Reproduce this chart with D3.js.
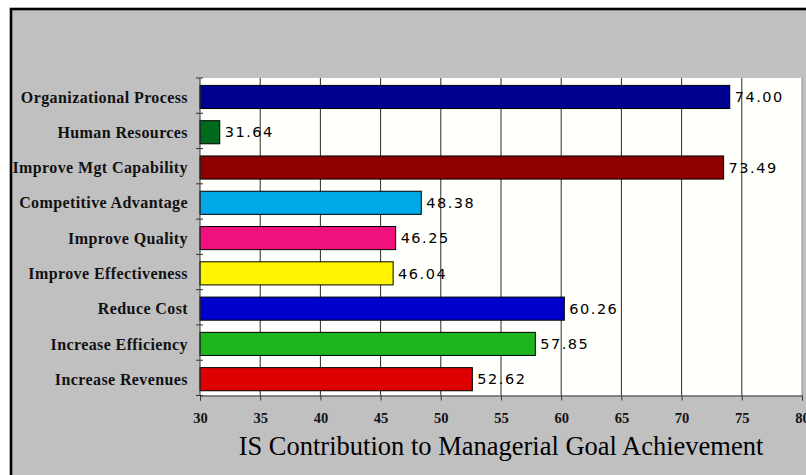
<!DOCTYPE html>
<html>
<head>
<meta charset="utf-8">
<script src="https://cdn.jsdelivr.net/npm/d3@7"></script>
<style>
  html, body { margin: 0; padding: 0; background: #ffffff; }
  svg { display: block; }
</style>
</head>
<body>
<svg id="chart" width="806" height="475"></svg>
<script>
// Goal categories, top to bottom
const categories = [
  "Organizational Process",
  "Human Resources",
  "Improve Mgt Capability",
  "Competitive Advantage",
  "Improve Quality",
  "Improve Effectiveness",
  "Reduce Cost",
  "Increase Efficiency",
  "Increase Revenues"
];
// Score for each category
const values = [74.00, 31.64, 73.49, 48.38, 46.25, 46.04, 60.26, 57.85, 52.62];
// Bar fill per category
const colors = ["#000090", "#006b1c", "#8e0000", "#00aae8", "#f0117f", "#fff500", "#0000cc", "#1fb51f", "#de0000"];
// Value axis ticks
const xTicks = [30, 35, 40, 45, 50, 55, 60, 65, 70, 75, 80];
const title = "IS Contribution to Managerial Goal Achievement";

const W = 806, H = 475;
const plot = { left: 200, right: 802, top: 78, bottom: 395.5 };

const svg = d3.select("#chart");

// Gray frame with a dark edge along the top and left
svg.append("rect")
  .attr("x", 0).attr("y", 0).attr("width", W).attr("height", H)
  .attr("fill", "#ffffff");
svg.append("rect")
  .attr("x", 11).attr("y", 9).attr("width", W + 20).attr("height", H + 20)
  .attr("fill", "#c0c0c0")
  .attr("stroke", "#000000").attr("stroke-width", 2.6);

const x = d3.scaleLinear().domain([30, 80]).range([plot.left, plot.right]);
const y = d3.scaleBand().domain(categories).range([plot.top, plot.bottom]).padding(0);
const bw = y.bandwidth();

// Plot background
svg.append("rect")
  .attr("x", plot.left).attr("y", plot.top)
  .attr("width", plot.right - plot.left).attr("height", plot.bottom - plot.top)
  .attr("fill", "#fffffb");

// Vertical gridlines
svg.append("g")
  .selectAll("line")
  .data(xTicks.slice(1))
  .join("line")
  .attr("x1", d => x(d)).attr("x2", d => x(d))
  .attr("y1", plot.top).attr("y2", plot.bottom)
  .attr("stroke", d => d === 80 ? "#8a8a8a" : "#2a2a2a")
  .attr("stroke-width", 1);

// Bars
svg.append("g")
  .selectAll("rect")
  .data(categories)
  .join("rect")
  .attr("x", x(30))
  .attr("y", c => y(c) + bw * 0.21)
  .attr("width", (c, i) => x(values[i]) - x(30))
  .attr("height", bw * 0.655)
  .attr("fill", (c, i) => colors[i])
  .attr("stroke", "#000000")
  .attr("stroke-width", 1);

// Value labels
svg.append("g")
  .selectAll("text")
  .data(categories)
  .join("text")
  .attr("x", (c, i) => x(values[i]) + 5)
  .attr("y", c => y(c) + bw * 0.21 + bw * 0.655 / 2)
  .attr("dy", "0.36em")
  .attr("font-family", "DejaVu Sans, Verdana, sans-serif")
  .attr("font-size", 14.5)
  .attr("letter-spacing", 1.5)
  .attr("fill", "#000000")
  .text((c, i) => values[i].toFixed(2));

// Category axis with ticks at band boundaries
const yAxis = svg.append("g");
yAxis.append("line")
  .attr("x1", plot.left).attr("x2", plot.left)
  .attr("y1", plot.top).attr("y2", plot.bottom)
  .attr("stroke", "#333333");
yAxis.selectAll("line.tick")
  .data(categories.concat([null]))
  .join("line")
  .attr("class", "tick")
  .attr("x1", plot.left - 4).attr("x2", plot.left + 3)
  .attr("y1", (c, i) => plot.top + i * bw)
  .attr("y2", (c, i) => plot.top + i * bw)
  .attr("stroke", "#333333");
yAxis.selectAll("text")
  .data(categories)
  .join("text")
  .attr("x", plot.left - 12)
  .attr("y", c => y(c) + bw * 0.21 + bw * 0.655 / 2)
  .attr("dy", "0.35em")
  .attr("text-anchor", "end")
  .attr("font-family", "Liberation Serif, Times New Roman, serif")
  .attr("font-weight", "bold")
  .attr("font-size", 16)
  .attr("letter-spacing", 0.4)
  .attr("fill", "#111111")
  .text(c => c);

// Value axis along the bottom
const xAxis = d3.axisBottom(x).tickValues(xTicks).tickSize(5).tickPadding(12).tickFormat(d3.format("d"));
const gx = svg.append("g")
  .attr("transform", `translate(0,${plot.bottom})`)
  .call(xAxis);
gx.select(".domain").attr("stroke", "#333333");
gx.selectAll(".tick line").attr("stroke", "#333333");
gx.selectAll(".tick text")
  .attr("font-family", "Liberation Serif, Times New Roman, serif")
  .attr("font-weight", "bold")
  .attr("font-size", 14.5)
  .attr("fill", "#111111");

// Chart title below the axis
svg.append("text")
  .attr("x", (plot.left + plot.right) / 2)
  .attr("y", 455)
  .attr("text-anchor", "middle")
  .attr("font-family", "Liberation Serif, Times New Roman, serif")
  .attr("font-size", 26.5)
  .attr("fill", "#000000")
  .text(title);
</script>
</body>
</html>
